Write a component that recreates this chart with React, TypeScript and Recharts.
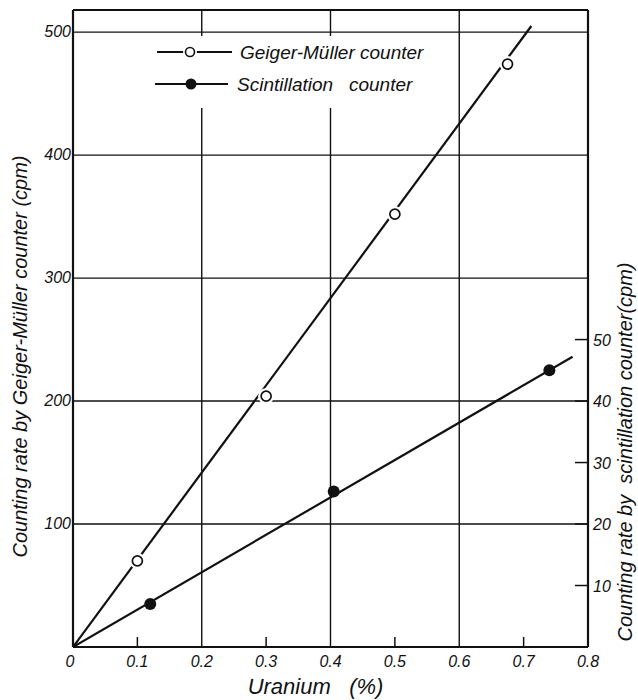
import { ComposedChart, Line, XAxis, YAxis, ReferenceLine } from 'recharts';

// uranium content (%) vs counting rate (cpm)
const gmUranium = [0.1, 0.3, 0.5, 0.675];
const gmRate = [70, 204, 352, 474];
const scUranium = [0.12, 0.405, 0.74];
const scRate = [7, 25.3, 45];

// drawn straight lines through origin
const gmFitUranium = [0, 0.712];
const gmFitRate = [0, 505];
const scFitUranium = [0, 0.776];
const scFitRate = [0, 47.2];

const xTicks = [0, 0.1, 0.2, 0.3, 0.4, 0.5, 0.6, 0.7, 0.8];
const xGrid = [0.2, 0.4, 0.6];
const leftTicks = [100, 200, 300, 400, 500];
const rightTicks = [10, 20, 30, 40, 50];
const LEFT_MAX = 518;
const RIGHT_MAX = LEFT_MAX / 5;

const FONT = "'Liberation Sans', Arial, sans-serif";
const INK = '#111';

const toPoints = (u: number[], v: number[]) => u.map((x, i) => ({ u: x, v: v[i] }));

const gmData = toPoints(gmUranium, gmRate);
const scData = toPoints(scUranium, scRate);
const gmFit = toPoints(gmFitUranium, gmFitRate);
const scFit = toPoints(scFitUranium, scFitRate);

const OpenDot = (props: any) => {
  const { cx, cy, key } = props;
  return (
    <g key={key}>
      <circle cx={cx} cy={cy} r={8} fill="#fff" />
      <circle cx={cx} cy={cy} r={5} fill="#fff" stroke={INK} strokeWidth={1.7} />
    </g>
  );
};

const FilledDot = (props: any) => {
  const { cx, cy, key } = props;
  return <circle key={key} cx={cx} cy={cy} r={6} fill={INK} />;
};

const XTick = (props: any) => {
  const { x, y, payload } = props;
  const v = payload.value;
  const odd = [0.1, 0.3, 0.5, 0.7].some((t) => Math.abs(t - v) < 1e-6);
  return (
    <g>
      {odd && <line x1={x} x2={x} y1={y - 10} y2={y} stroke={INK} strokeWidth={1.5} />}
      <text x={v === 0 ? x - 3 : x} y={y + 20} textAnchor="middle" fontFamily={FONT} fontStyle="italic" fontSize={16} fill={INK}>
        {v === 0 ? '0' : v.toFixed(1)}
      </text>
    </g>
  );
};

const LeftTick = (props: any) => {
  const { x, y, payload } = props;
  return (
    <text x={x - 2} y={y + 5} textAnchor="end" fontFamily={FONT} fontStyle="italic" fontSize={16} fill={INK}>
      {payload.value}
    </text>
  );
};

const RightTick = (props: any) => {
  const { x, y, payload } = props;
  return (
    <g>
      <line x1={x - 13} x2={x} y1={y} y2={y} stroke={INK} strokeWidth={1.5} />
      <text x={x + 5} y={y + 6} textAnchor="start" fontFamily={FONT} fontStyle="italic" fontSize={16} fill={INK}>
        {payload.value}
      </text>
    </g>
  );
};

const Legend = () => (
  <div style={{ position: 'absolute', left: 148, top: 36, width: 295, height: 72, background: '#fff' }}>
    <svg width={295} height={72}>
      <line x1={9} x2={84} y1={16} y2={16} stroke={INK} strokeWidth={2} />
      <circle cx={42} cy={16} r={7} fill="#fff" />
      <circle cx={42} cy={16} r={4.5} fill="#fff" stroke={INK} strokeWidth={1.6} />
      <text x={92} y={23} fontFamily={FONT} fontStyle="italic" fontSize={19} fill={INK}>
        Geiger-Müller counter
      </text>
      <line x1={7} x2={80} y1={48} y2={48} stroke={INK} strokeWidth={2} />
      <circle cx={43} cy={48} r={5.5} fill={INK} />
      <text x={89} y={55} fontFamily={FONT} fontStyle="italic" fontSize={19} fill={INK} style={{ whiteSpace: 'pre' }}>
        {'Scintillation   counter'}
      </text>
    </svg>
  </div>
);

export default function App() {
  return (
    <div style={{ position: 'absolute', left: 0, top: 0, width: 638, height: 700, background: '#fff' }}>
      <ComposedChart width={638} height={700} margin={{ top: 10, right: 0, bottom: 0, left: 0 }}>
        <XAxis
          type="number"
          dataKey="u"
          domain={[0, 0.8]}
          ticks={xTicks}
          allowDataOverflow
          height={53}
          tickSize={0}
          tickMargin={0}
          tickLine={false}
          axisLine={{ stroke: INK, strokeWidth: 2.2 }}
          tick={<XTick />}
          label={{
            content: (p: any) => {
              const vb = p.viewBox;
              return (
                <text
                  x={vb.x + vb.width / 2 - 15}
                  y={vb.y + 47}
                  textAnchor="middle"
                  fontFamily={FONT}
                  fontStyle="italic"
                  fontSize={22}
                  fill={INK}
                  style={{ whiteSpace: 'pre' }}
                >
                  {'Uranium   (%)'}
                </text>
              );
            },
          }}
        />
        <YAxis
          yAxisId="left"
          type="number"
          domain={[0, LEFT_MAX]}
          ticks={leftTicks}
          allowDataOverflow
          width={73}
          tickSize={0}
          tickMargin={0}
          tickLine={false}
          axisLine={{ stroke: INK, strokeWidth: 2.2 }}
          tick={<LeftTick />}
          label={{
            content: (p: any) => {
              const vb = p.viewBox;
              const cx = vb.x + 20;
              const cy = vb.y + vb.height / 2 + 28;
              return (
                <text
                  x={cx}
                  y={cy}
                  transform={`rotate(-90 ${cx} ${cy})`}
                  textAnchor="middle"
                  dominantBaseline="central"
                  fontFamily={FONT}
                  fontStyle="italic"
                  fontSize={20}
                  fill={INK}
                >
                  Counting rate by Geiger-Müller counter (cpm)
                </text>
              );
            },
          }}
        />
        <YAxis
          yAxisId="right"
          orientation="right"
          type="number"
          domain={[0, RIGHT_MAX]}
          ticks={rightTicks}
          allowDataOverflow
          width={50}
          tickSize={0}
          tickMargin={0}
          tickLine={false}
          axisLine={{ stroke: INK, strokeWidth: 2.2 }}
          tick={<RightTick />}
          label={{
            content: (p: any) => {
              const vb = p.viewBox;
              const cx = vb.x + 37;
              const cy = vb.y + 442;
              return (
                <text
                  x={cx}
                  y={cy}
                  transform={`rotate(-90 ${cx} ${cy})`}
                  textAnchor="middle"
                  dominantBaseline="central"
                  fontFamily={FONT}
                  fontStyle="italic"
                  fontSize={20}
                  fill={INK}
                  style={{ whiteSpace: 'pre' }}
                >
                  {'Counting rate by  scintillation counter(cpm)'}
                </text>
              );
            },
          }}
        />

        {leftTicks.map((v) => (
          <ReferenceLine key={`h${v}`} yAxisId="left" y={v} stroke={INK} strokeWidth={1.4} />
        ))}
        {xGrid.map((v) => (
          <ReferenceLine key={`v${v}`} yAxisId="left" x={v} stroke={INK} strokeWidth={1.4} />
        ))}
        <ReferenceLine yAxisId="left" y={LEFT_MAX} stroke={INK} strokeWidth={2.2} />

        <Line
          yAxisId="left"
          data={gmFit}
          dataKey="v"
          stroke={INK}
          strokeWidth={2.2}
          dot={false}
          activeDot={false}
          isAnimationActive={false}
        />
        <Line
          yAxisId="right"
          data={scFit}
          dataKey="v"
          stroke={INK}
          strokeWidth={2.2}
          dot={false}
          activeDot={false}
          isAnimationActive={false}
        />
        <Line
          yAxisId="left"
          data={gmData}
          dataKey="v"
          stroke="none"
          strokeWidth={0}
          dot={OpenDot}
          activeDot={false}
          isAnimationActive={false}
        />
        <Line
          yAxisId="right"
          data={scData}
          dataKey="v"
          stroke="none"
          strokeWidth={0}
          dot={FilledDot}
          activeDot={false}
          isAnimationActive={false}
        />
      </ComposedChart>
      <Legend />
    </div>
  );
}
